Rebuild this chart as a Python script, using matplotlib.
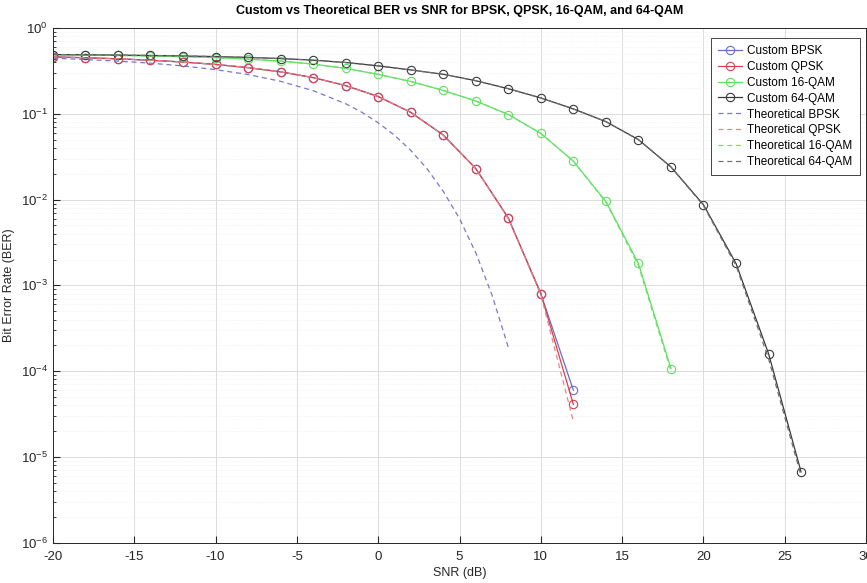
import matplotlib
matplotlib.use('Agg')
import matplotlib.pyplot as plt
from matplotlib.ticker import LogLocator, MultipleLocator, NullFormatter

matplotlib.rcParams['font.family'] = ['Liberation Sans', 'DejaVu Sans']
matplotlib.rcParams['font.size'] = 9
matplotlib.rcParams['axes.unicode_minus'] = False
matplotlib.rcParams['mathtext.default'] = 'regular'

# SNR grids (dB)
snr_bpsk = [-20, -18, -16, -14, -12, -10, -8, -6, -4, -2, 0, 2, 4, 6, 8, 10, 12]
snr_16 = [-20, -18, -16, -14, -12, -10, -8, -6, -4, -2, 0, 2, 4, 6, 8, 10, 12, 14, 16, 18]
snr_64 = [-20, -18, -16, -14, -12, -10, -8, -6, -4, -2, 0, 2, 4, 6, 8, 10, 12, 14, 16, 18, 20, 22, 24, 26]
snr_th_bpsk = [-20, -18, -16, -14, -12, -10, -8, -6, -4, -2, -1, 0, 1, 2, 3, 4, 5, 6, 7, 8]

# simulated BER
ber_bpsk = [0.460, 0.450, 0.437, 0.421, 0.401, 0.376, 0.345, 0.308, 0.264, 0.213,
            0.159, 0.104, 0.0565, 0.023, 0.0061, 8.0e-4, 6.0e-5]
ber_qpsk = [0.460, 0.450, 0.437, 0.421, 0.401, 0.376, 0.345, 0.308, 0.264, 0.213,
            0.159, 0.104, 0.0565, 0.023, 0.0061, 8.0e-4, 4.1e-5]
ber_16qam = [0.487, 0.484, 0.479, 0.472, 0.463, 0.451, 0.434, 0.411, 0.380, 0.338,
             0.288, 0.238, 0.187, 0.141, 0.098, 0.059, 0.028, 0.0095, 0.0018, 1.07e-4]
ber_64qam = [0.490, 0.487, 0.483, 0.478, 0.472, 0.464, 0.454, 0.440, 0.422, 0.396,
             0.362, 0.324, 0.289, 0.243, 0.196, 0.153, 0.114, 0.081, 0.050, 0.024,
             0.0087, 0.0018, 1.6e-4, 6.7e-6]

# theoretical BER
th_bpsk = [0.444, 0.429, 0.411, 0.389, 0.361, 0.327, 0.287, 0.239, 0.186, 0.131,
           0.104, 0.0786, 0.0563, 0.0375, 0.0229, 0.0125, 0.0060, 0.0024, 7.7e-4, 1.9e-4]
th_qpsk = [0.460, 0.450, 0.437, 0.421, 0.401, 0.376, 0.345, 0.308, 0.264, 0.213,
           0.159, 0.104, 0.0565, 0.023, 0.0060, 7.8e-4, 2.6e-5]
th_16qam = [0.487, 0.484, 0.479, 0.472, 0.463, 0.451, 0.434, 0.411, 0.380, 0.338,
            0.288, 0.238, 0.187, 0.141, 0.098, 0.059, 0.028, 0.0093, 0.0017, 1.0e-4]
th_64qam = [0.490, 0.487, 0.483, 0.478, 0.472, 0.464, 0.454, 0.440, 0.422, 0.396,
            0.362, 0.324, 0.289, 0.243, 0.196, 0.153, 0.114, 0.081, 0.050, 0.024,
            0.0085, 0.0017, 1.4e-4, 6.0e-6]

c_blue = '#6c6cc4'
c_red = '#d8404e'
c_green = '#5ee05e'
c_black = '#3a3a3a'

fig = plt.figure(figsize=(8.67, 5.83), dpi=100)
ax = fig.add_axes([0.061, 0.069, 0.938, 0.883])

mk = dict(marker='o', markersize=6, markerfacecolor='none', linewidth=0.9, markeredgewidth=0.8)
ax.semilogy(snr_bpsk, ber_bpsk, color=c_blue, label='Custom BPSK', **mk)
ax.semilogy(snr_bpsk, ber_qpsk, color=c_red, label='Custom QPSK', **mk)
ax.semilogy(snr_16, ber_16qam, color=c_green, label='Custom 16-QAM', **mk)
ax.semilogy(snr_64, ber_64qam, color=c_black, label='Custom 64-QAM', **mk)

ds = dict(linestyle=(0, (4, 3)), linewidth=0.9)
ax.semilogy(snr_th_bpsk, th_bpsk, color='#7878c8', label='Theoretical BPSK', **ds)
ax.semilogy(snr_bpsk, th_qpsk, color='#e08888', label='Theoretical QPSK', **ds)
ax.semilogy(snr_16, th_16qam, color='#6ee06e', label='Theoretical 16-QAM', **ds)
ax.semilogy(snr_64, th_64qam, color='#707070', label='Theoretical 64-QAM', **ds)

ax.set_xlim(-20, 30)
ax.set_ylim(1e-6, 1)
ax.xaxis.set_major_locator(MultipleLocator(5))
ax.yaxis.set_major_locator(LogLocator(base=10, numticks=10))
ax.yaxis.set_minor_locator(LogLocator(base=10, subs=range(2, 10), numticks=20))
ax.yaxis.set_minor_formatter(NullFormatter())

ax.grid(True, which='major', color='#dcdcdc', linewidth=0.7)
ax.grid(True, which='minor', axis='y', color='#ececec', linewidth=0.5, linestyle=':')
ax.set_axisbelow(True)
ax.tick_params(which='both', direction='in', colors='#262626', labelsize=9.5, top=False, right=False)
ax.tick_params(axis='x', pad=6)
ax.tick_params(which='major', length=5)
ax.tick_params(which='minor', length=2.5)
for s in ax.spines.values():
    s.set_color('#262626')
    s.set_linewidth(0.7)

ax.set_xlabel('SNR (dB)', fontsize=9, color='#262626', labelpad=3)
ax.set_ylabel('Bit Error Rate (BER)', fontsize=9, color='#262626')
ax.set_title('Custom vs Theoretical BER vs SNR for BPSK, QPSK, 16-QAM, and 64-QAM',
             fontsize=9, fontweight='bold', pad=10)

leg = ax.legend(loc='upper right', fontsize=8.5, framealpha=1, fancybox=False,
                edgecolor='#262626', borderaxespad=0.4, handlelength=2.0, labelspacing=0.33,
                borderpad=0.6, handletextpad=0.5, bbox_to_anchor=(0.998, 0.99))
leg.get_frame().set_linewidth(0.6)

plt.savefig('out.png', dpi=100)
